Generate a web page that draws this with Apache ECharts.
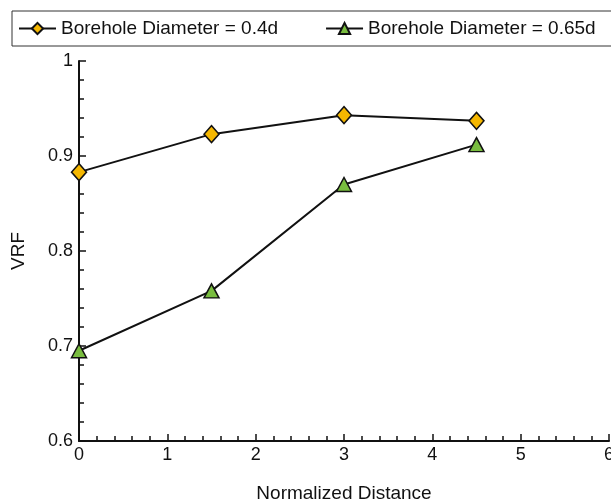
<!DOCTYPE html>
<html>
<head>
<meta charset="utf-8">
<script src="https://cdn.jsdelivr.net/npm/echarts@6/dist/echarts.min.js"></script>
<style>
  html, body { margin: 0; padding: 0; background: #fff; }
  #main { width: 611px; height: 503px; }
</style>
</head>
<body>
<div id="main"></div>
<script>
// values
var distance = [0, 1.5, 3, 4.5];
var vrfSmall = [0.883, 0.923, 0.943, 0.937];   // 0.4d
var vrfLarge = [0.695, 0.758, 0.870, 0.912];   // 0.65d
var seriesNames = ['Borehole Diameter = 0.4d', 'Borehole Diameter = 0.65d'];

function pairs(xs, ys) {
  var out = [];
  for (var i = 0; i < xs.length; i++) out.push([xs[i], ys[i]]);
  return out;
}

var myChart = echarts.init(document.getElementById('main'));

var fam = 'Liberation Sans, Arial, sans-serif';
var txt = { color: '#111', fontFamily: fam, fontSize: 19 };

var option = {
  animation: false,
  legend: {
    left: 12,
    top: 11,
    width: 640,
    padding: [8, 30, 8, 6],
    itemGap: 47,
    itemWidth: 37,
    itemHeight: 14,
    borderColor: '#333',
    borderWidth: 1,
    textStyle: txt,
    data: seriesNames
  },
  grid: { left: 79, right: 2, top: 61, bottom: 62, outerBoundsMode: 'none' },
  xAxis: {
    type: 'value',
    min: 0, max: 6, interval: 1,
    name: 'Normalized Distance',
    nameLocation: 'middle',
    nameGap: 43,
    nameTextStyle: txt,
    axisLine: { lineStyle: { color: '#111', width: 2 } },
    axisTick: { inside: true, length: 7, lineStyle: { color: '#111', width: 1.5 } },
    minorTick: { show: true, splitNumber: 5, length: 5, lineStyle: { color: '#111', width: 1.5 } },
    axisLabel: { color: '#111', fontFamily: fam, fontSize: 18, margin: 5, hideOverlap: false },
    splitLine: { show: false }
  },
  yAxis: {
    type: 'value',
    min: 0.6, max: 1, interval: 0.1,
    name: 'VRF',
    nameLocation: 'middle',
    nameGap: 51,
    nameRotate: 90,
    nameTextStyle: txt,
    axisLine: { show: true, lineStyle: { color: '#111', width: 2 } },
    axisTick: { show: true, inside: true, length: 7, lineStyle: { color: '#111', width: 1.5 } },
    minorTick: { show: true, splitNumber: 5, length: 5, lineStyle: { color: '#111', width: 1.5 } },
    axisLabel: {
      color: '#111', fontFamily: fam, fontSize: 18, margin: 6,
      formatter: function (v) { return String(+v.toFixed(2)); }
    },
    splitLine: { show: false }
  },
  series: [
    {
      name: seriesNames[0],
      type: 'line',
      data: pairs(distance, vrfSmall),
      symbol: 'diamond',
      symbolSize: [15, 17],
      lineStyle: { color: '#111', width: 2 },
      itemStyle: { color: '#f5b700', borderColor: '#111', borderWidth: 1.5 }
    },
    {
      name: seriesNames[1],
      type: 'line',
      data: pairs(distance, vrfLarge),
      symbol: 'triangle',
      symbolSize: [15, 14],
      lineStyle: { color: '#111', width: 2 },
      itemStyle: { color: '#79bd3f', borderColor: '#111', borderWidth: 1.5 }
    }
  ]
};

myChart.setOption(option);
</script>
</body>
</html>
